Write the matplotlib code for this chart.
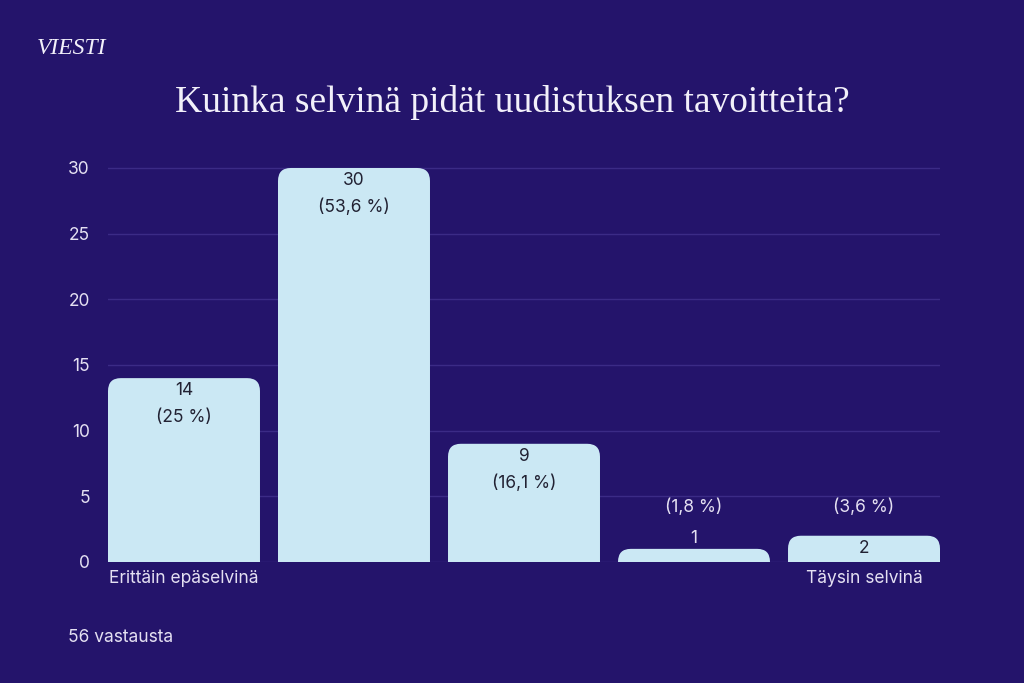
import matplotlib.pyplot as plt
from matplotlib.patches import FancyBboxPatch

# data
counts = [14, 30, 9, 1, 2]
percents = ["(25 %)", "(53,6 %)", "(16,1 %)", "(1,8 %)", "(3,6 %)"]
cat_labels = ["Erittäin epäselvinä", "", "", "", "Täysin selvinä"]
yticks = [0, 5, 10, 15, 20, 25, 30]
title = "Kuinka selvinä pidät uudistuksen tavoitteita?"
footer = "56 vastausta"

bg = "#24146b"
bar_col = "#cbe8f4"
light = "#e4e0f2"
dark = "#222233"
grid_col = "#3b2b86"

plt.rcParams['font.family'] = ['Inter', 'DejaVu Sans']

fig = plt.figure(figsize=(10.24, 6.83), dpi=100, facecolor=bg)
ax = fig.add_axes([108 / 1024, 1 - 562 / 683, 832 / 1024, 401.9 / 683])
ax.set_facecolor(bg)

width = 0.894
ax.set_xlim(-width / 2, len(counts) - 1 + width / 2)
ax.set_ylim(0, 30.6)

# rounded-top bars; bottom part goes below 0 and gets clipped
r = 0.075
for i, v in enumerate(counts):
    p = FancyBboxPatch((i - width / 2 + r, -2), width - 2 * r, v + 2 - r * 13.1,
                       boxstyle=f"round,pad={r}", mutation_aspect=13.1,
                       facecolor=bar_col, edgecolor="none", zorder=3)
    ax.add_patch(p)

# labels
fs = 12.5
for i, v in enumerate(counts):
    if v >= 2:
        ny = v - 0.95
        ax.text(i, ny, str(v), ha="center", va="center", color=dark, fontsize=fs, zorder=4)
        py = v - 3.0 if v >= 5 else v + 2.2
    else:
        ny = v + 0.8
        ax.text(i, ny, str(v), ha="center", va="center", color=light, fontsize=fs, zorder=4)
        py = ny + 2.4
    pc = dark if v >= 5 else light
    ax.text(i, py, percents[i], ha="center", va="center", color=pc, fontsize=fs, zorder=4)

ax.set_yticks(yticks)
ax.set_yticklabels([str(t) for t in yticks])
ax.tick_params(axis="y", length=0, pad=13, labelcolor=light, labelsize=fs)
ax.set_xticks(range(len(counts)))
ax.set_xticklabels(cat_labels)
ax.tick_params(axis="x", length=0, pad=6, labelcolor=light, labelsize=fs)
ax.grid(axis="y", color=grid_col, linewidth=1, zorder=0)
for s in ax.spines.values():
    s.set_visible(False)

fig.text(0.5, 1 - 103 / 683, title, ha="center", va="center", color="#f2f0fa",
         fontsize=27, family=["Liberation Serif"])
fig.text(37 / 1024, 1 - 48 / 683, "VIESTI", ha="left", va="center", color="#f2f0fa",
         fontsize=17, family=["Liberation Serif"], style="italic")
fig.text(68 / 1024, 1 - 638 / 683, footer, ha="left", va="center", color=light, fontsize=fs)

fig.savefig("out.png", dpi=100, facecolor=bg)
